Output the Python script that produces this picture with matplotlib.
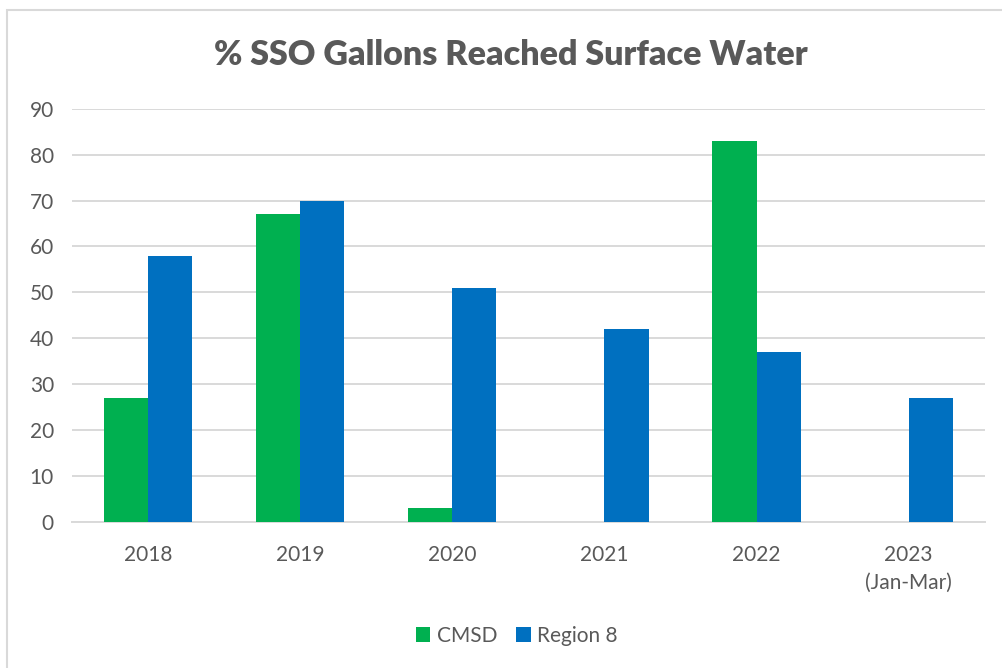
import numpy as np
import matplotlib.pyplot as plt
from matplotlib.patches import Rectangle

years = ['2018', '2019', '2020', '2021', '2022', '2023\n(Jan-Mar)']
cmsd = [27, 67, 3, 0, 83, 0]
region8 = [58, 70, 51, 42, 37, 27]
series_names = ['CMSD', 'Region 8']

plt.rcParams['font.family'] = ['Lato', 'DejaVu Sans']
txt = '#595959'

fig = plt.figure(figsize=(10.03, 6.68), dpi=100)
ax = fig.add_axes([0.0718, 0.219, 0.910, 0.618])

x = np.arange(len(years))
w = 0.29
ax.bar(x - w/2, cmsd, w, color='#00B050', label=series_names[0], zorder=3)
ax.bar(x + w/2, region8, w, color='#0070C0', label=series_names[1], zorder=3)

ax.set_ylim(0, 90)
ax.set_yticks(range(0, 91, 10))
ax.set_xlim(-0.5, len(years) - 0.5)
ax.set_xticks(x)
ax.set_xticklabels(years, linespacing=1.45, va='top')
ax.grid(axis='y', color='#D9D9D9', linewidth=1.4, zorder=0)
for s in ['top', 'right', 'left']:
    ax.spines[s].set_visible(False)
ax.spines['bottom'].set_color('#D9D9D9')
ax.spines['bottom'].set_linewidth(1.4)
ax.tick_params(length=0, labelsize=15, colors=txt)
ax.tick_params(axis='x', pad=17)
ax.tick_params(axis='y', pad=13)

fig.suptitle('% SSO Gallons Reached Surface Water', x=0.509, y=0.942,
             fontsize=24.5, fontweight='heavy', color=txt)

fig.legend(loc='center', bbox_to_anchor=(0.515, 0.048), ncol=2, frameon=False,
           fontsize=15, labelcolor=txt, handlelength=0.7, handleheight=0.7,
           handletextpad=0.3, columnspacing=0.9)

# chart border
fig.patches.append(Rectangle((7/1003, -0.1), 1.1, 1 - 10/668 + 0.1,
                             transform=fig.transFigure, fill=False,
                             edgecolor='#D9D9D9', linewidth=1.5))

fig.savefig('out.png', dpi=100)
